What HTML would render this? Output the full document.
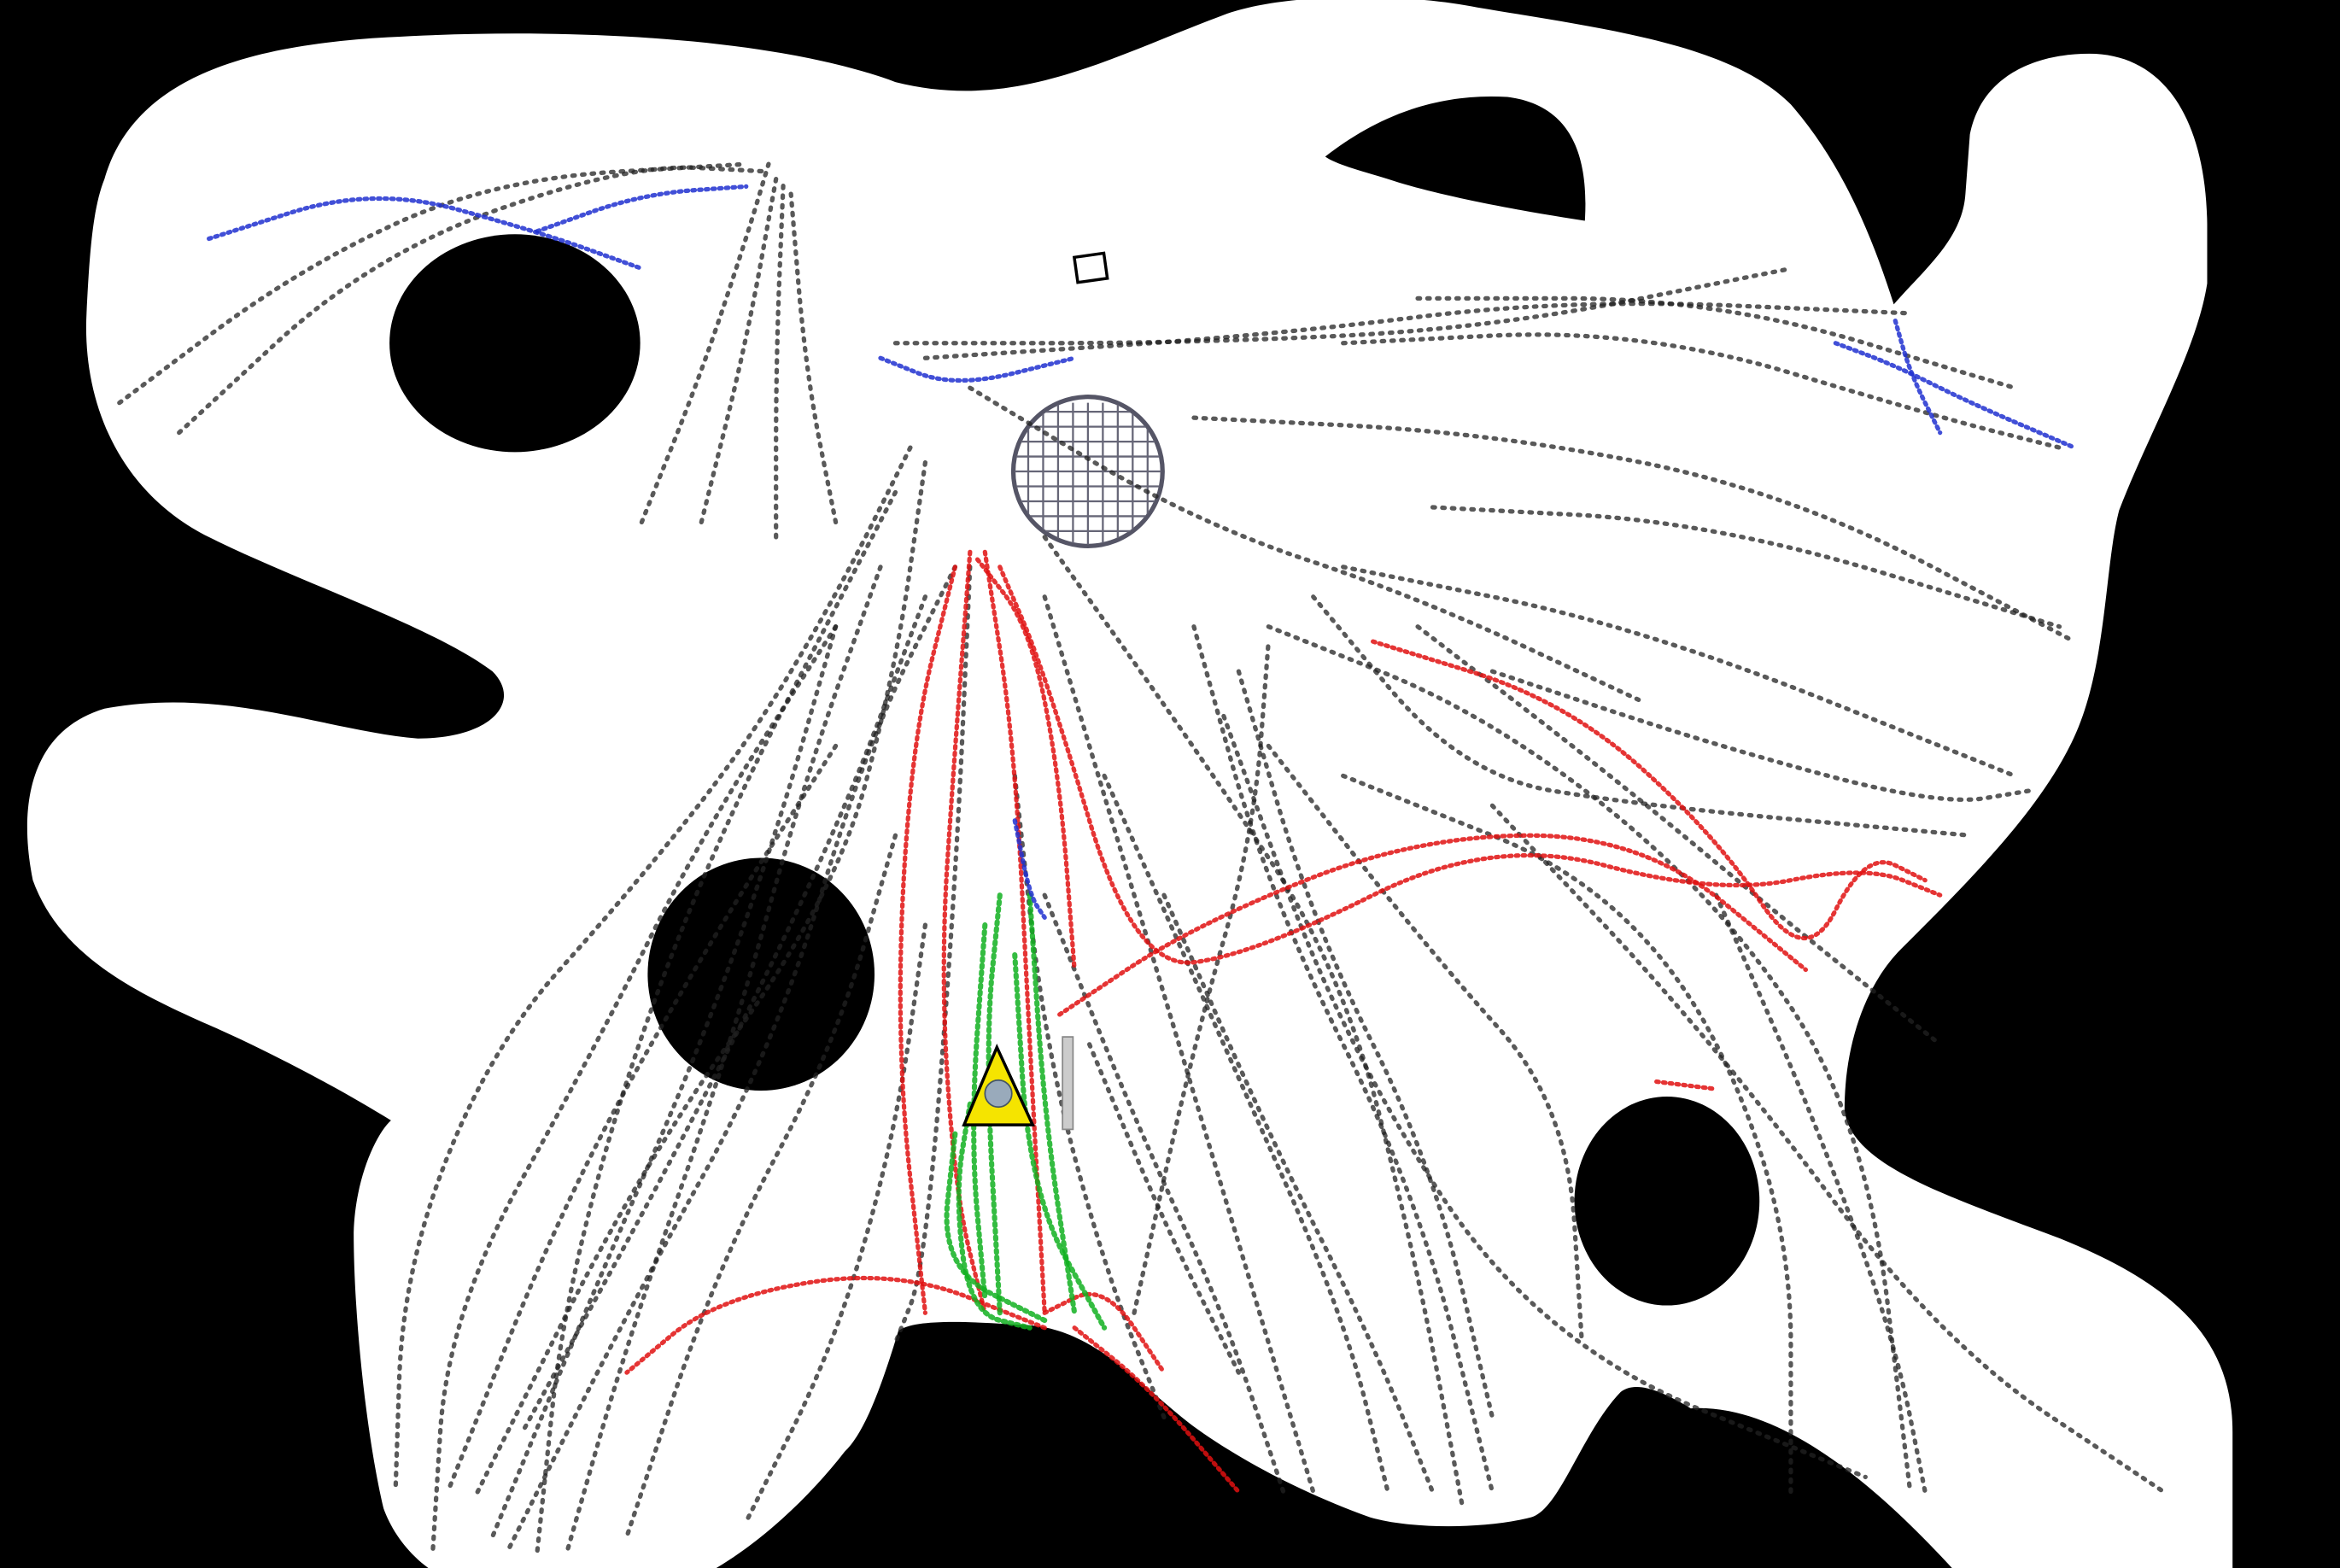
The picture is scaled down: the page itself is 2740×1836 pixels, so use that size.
<!DOCTYPE html>
<html><head><meta charset="utf-8"><style>
html,body{margin:0;padding:0;background:#000;}
svg{display:block}
</style></head><body>
<svg width="2740" height="1836" viewBox="0 0 1568 1051" preserveAspectRatio="none" xmlns="http://www.w3.org/2000/svg">
<rect x="0" y="0" width="1568" height="1051" fill="#000"/>
<path fill="#fff" d="
M 70 120 C 90 50 170 30 260 25 C 380 18 520 25 600 55 C 680 75 740 40 820 10 C 860 -5 940 -5 990 5 C 1080 20 1160 30 1200 70 C 1235 110 1255 160 1269 204 C 1290 180 1315 160 1317 130 L 1320 90 C 1328 50 1365 36 1400 36 C 1450 36 1478 80 1479 150 L 1479 190 C 1472 235 1440 290 1420 342 C 1410 380 1412 450 1388 498 C 1365 545 1320 590 1274 636 C 1250 660 1236 700 1236 744 C 1240 780 1300 800 1380 830 C 1460 862 1496 900 1496 960 L 1496 1051 L 1308 1051 C 1270 1010 1200 940 1133 944 C 1110 930 1095 926 1086 933 C 1060 960 1045 1012 1026 1017 C 995 1025 945 1025 918 1017 C 870 1000 825 975 797 954 C 760 925 730 888 683 888 C 640 885 612 885 602 892 C 592 925 580 960 566 973 C 545 1000 515 1030 480 1051 L 287 1051 C 272 1040 262 1025 257 1011 C 245 960 237 880 237 826 C 238 790 252 760 262 751 C 220 725 170 700 140 687 C 90 665 40 640 22 590 C 12 540 20 490 70 475 C 150 460 220 490 280 495 C 330 495 350 470 330 450 C 290 420 200 390 140 360 C 80 330 55 270 58 210 C 60 170 62 140 70 120 Z"/>
<ellipse cx="345" cy="230" rx="84" ry="73" fill="#000"/>
<ellipse cx="510" cy="653" rx="76" ry="78" fill="#000"/>
<ellipse cx="1117" cy="805" rx="62" ry="70" fill="#000"/>
<path fill="#000" d="M 888 105 C 920 80 960 62 1010 65 C 1050 70 1065 100 1062 148 C 1010 140 960 130 930 120 C 910 114 895 110 888 105 Z"/>
<rect x="721" y="171" width="20" height="17" fill="none" stroke="#000" stroke-width="2" transform="rotate(-8 731 180)"/>
<g>
<circle cx="729" cy="316" r="50" fill="#fff" stroke="#556" stroke-width="3"/>
<g stroke="#667" stroke-width="1.3" clip-path="url(#gc)">
<path d="M689 270V370M699 270V370M709 270V370M719 270V370M729 270V370M739 270V370M749 270V370M759 270V370M769 270V370M680 276H780M680 286H780M680 296H780M680 306H780M680 316H780M680 326H780M680 336H780M680 346H780M680 356H780"/>
</g>
<clipPath id="gc"><circle cx="729" cy="316" r="49"/></clipPath>
</g>
<g id="traj" fill="none" stroke-linecap="round"></g>
<g>
<polygon points="668,702 646,754 692,754" fill="#f5e400" stroke="#000" stroke-width="2"/>
<circle cx="669" cy="733" r="9" fill="#9ab" stroke="#456" stroke-width="1"/>
<rect x="712" y="695" width="7" height="62" fill="#ccc" stroke="#888" stroke-width="1"/>
</g>
</svg>
<script>
// trajectory data (display coords: x, y pairs)
const blackPaths = [
 [[80,270],[200,180],[330,120],[500,110]],[[120,290],[250,170],[420,110],[515,115]],
 [[430,350],[470,250],[500,160],[515,110]],[[470,350],[500,230],[520,120]],
 [[520,360],[520,240],[525,120]],[[560,350],[540,250],[530,130]],
 [[600,230],[800,230],[1000,220],[1200,180]],[[620,240],[850,225],[1050,200],[1280,210]],
 [[900,230],[1100,220],[1300,280],[1380,300]],[[950,200],[1150,200],[1350,260]],
 [[960,340],[1150,350],[1380,420]],[[900,380],[1100,420],[1350,520]],
 [[610,300],[560,400],[500,500],[420,600],[330,700],[270,850],[265,1000]],
 [[620,310],[600,450],[560,600],[430,780],[320,1000]],[[640,380],[580,500],[520,700],[420,880],[340,1040]],
 [[650,380],[640,600],[620,850],[600,900]],[[700,400],[760,600],[820,800],[880,1000]],
 [[800,420],[850,600],[950,800],[1000,1000]],[[820,480],[900,700],[1030,900],[1250,990]],
 [[850,420],[1000,480],[1150,600],[1250,750],[1280,1000]],[[900,520],[1100,600],[1200,800],[1200,1000]],
 [[700,360],[800,500],[900,650],[950,850],[980,1010]],[[600,330],[460,600],[380,850],[360,1040]],
 [[560,420],[470,560],[400,700],[300,880],[290,1040]],[[880,400],[980,520],[1100,540],[1320,560]],
 [[760,880],[800,700],[840,560],[850,430]],[[1000,540],[1150,700],[1300,900],[1450,1000]],
 [[560,420],[520,560],[470,700],[400,860],[330,1030]],[[590,380],[540,520],[490,700],[420,900],[380,1040]],
 [[620,400],[560,560],[460,760],[350,960]],[[700,600],[760,750],[820,880],[860,1000]],
 [[740,520],[820,700],[900,880],[930,1000]],[[830,450],[880,620],[960,780],[1000,950]],
 [[950,420],[1080,520],[1200,620],[1300,700]],[[1000,450],[1150,500],[1300,540],[1360,530]],
 [[850,500],[960,640],[1050,740],[1060,900]],[[1150,600],[1220,760],[1270,900],[1290,1000]],
 [[800,280],[1000,290],[1200,330],[1390,430]],[[650,260],[800,350],[950,400],[1100,470]],
 [[560,500],[470,640],[380,800],[300,1000]],[[680,520],[700,700],[740,850],[780,950]],
 [[600,560],[560,700],[480,850],[420,1030]],[[620,620],[600,760],[560,900],[500,1020]],
 [[730,700],[780,820],[830,920]],[[780,600],[850,760],[920,900],[960,1000]]
];
const redPaths = [
 [[650,370],[640,500],[630,650],[640,800],[660,880]],[[660,370],[680,500],[690,700],[700,880]],
 [[640,380],[610,500],[600,700],[620,880]],[[670,380],[700,450],[760,650],[840,640],[1000,560],[1150,600],[1250,580],[1300,600]],
 [[710,680],[800,620],[950,560],[1100,560],[1210,650]],[[920,430],[1050,470],[1150,560],[1210,650],[1250,570],[1290,590]],
 [[700,890],[600,850],[480,870],[420,920]],[[720,890],[770,930],[830,1000]],[[1110,725],[1150,730]],
 [[655,375],[690,420],[710,520],[720,650]],[[700,880],[740,860],[780,920]]
];
const greenPaths = [
 [[650,740],[640,800],[650,880],[690,890]],[[670,600],[660,700],[670,880]],[[690,600],[700,750],[720,880]],
 [[640,760],[630,850],[700,885]],[[680,640],[690,800],[740,890]],[[660,620],[650,760],[660,870]]
];
const bluePaths = [
 [[140,160],[250,125],[360,155],[430,180]],[[360,155],[430,130],[500,125]],
 [[590,240],[640,260],[720,240]],[[1230,230],[1270,245],[1320,270],[1390,300]],[[1270,215],[1280,250],[1300,290]],
 [[680,550],[690,600],[700,615]]
];
const g = document.getElementById('traj');
function draw(list, color, w, dash, op){
 list.forEach((pts)=>{
  let d = 'M'+pts[0][0]+' '+pts[0][1];
  for(let k=1;k<pts.length;k++){
   const p0=pts[k-1], p1=pts[k];
   const mx=(p0[0]+p1[0])/2, my=(p0[1]+p1[1])/2;
   d += (k===1?' L':' Q'+p0[0]+' '+p0[1]+' ')+mx+' '+my;
  }
  d += ' L'+pts[pts.length-1][0]+' '+pts[pts.length-1][1];
  const el = document.createElementNS('http://www.w3.org/2000/svg','path');
  
  
  el.setAttribute('d', d);
  el.setAttribute('stroke', color);
  el.setAttribute('stroke-width', w);
  el.setAttribute('stroke-dasharray', dash);
  el.setAttribute('opacity', op);
  g.appendChild(el);
 });
}
draw(blackPaths,'#222',3,'1.5 5',0.75);
draw(redPaths,'#e01010',3,'1.5 3',0.85);
draw(greenPaths,'#10b020',3.5,'1.5 3',0.85);
draw(bluePaths,'#2030d0',3,'1.5 3',0.85);
</script>
</body></html>
